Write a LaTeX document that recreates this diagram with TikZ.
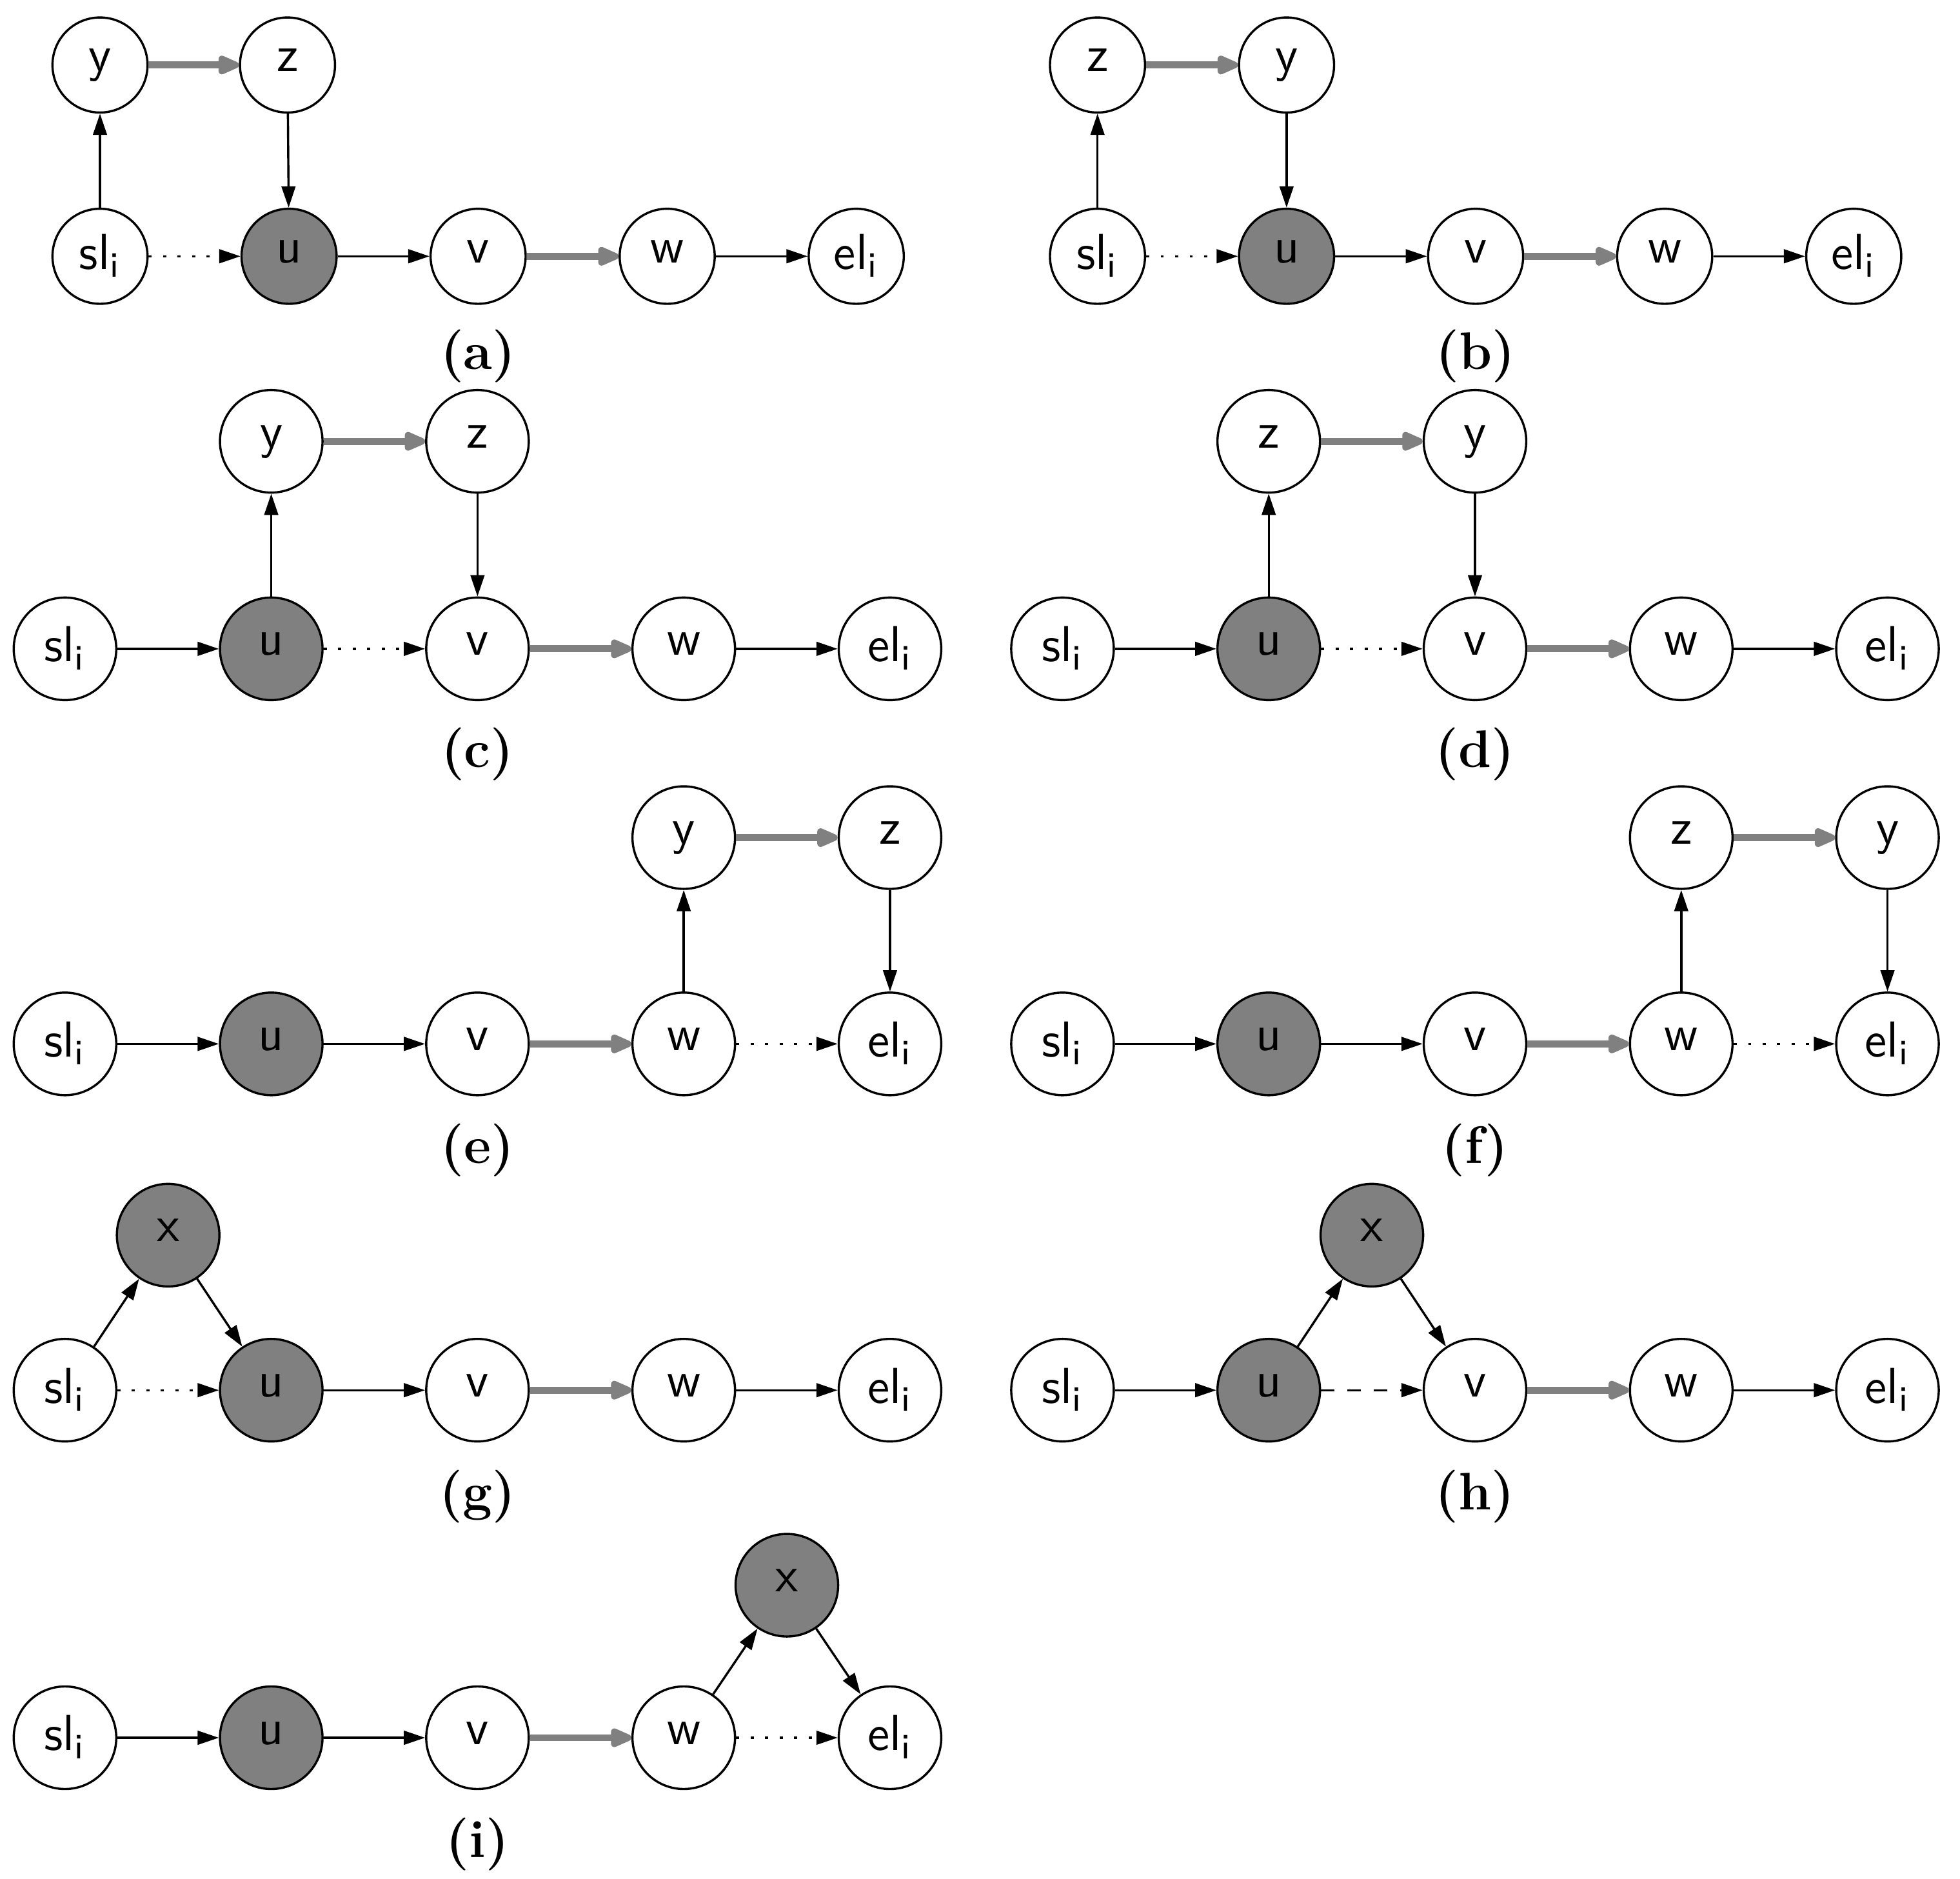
\documentclass[tikz,border=0pt]{standalone}
\usetikzlibrary{arrows.meta}
\tikzset{
  vtx/.style={circle, draw, line width=0.5pt, minimum size=0.82cm, inner sep=0pt,
    text depth=0.5ex, font=\sffamily\fontsize{11.5}{13}\selectfont},
  hot/.style={fill=gray},
  arr/.style={-{Triangle[length=1.7mm,width=1.1mm]}, line width=0.5pt},
  garr/.style={-{Triangle[round,length=2.1mm,width=1.6mm]}, line width=1.6pt, draw=gray},
  dots/.style={dash pattern=on 0.7pt off 2.6pt},
  captxt/.style={font=\bfseries\fontsize{12}{14}\selectfont}
}
\begin{document}
\begin{tikzpicture}[x=0.01cm, y=-0.01cm]
    \useasboundingbox (0,0) rectangle (1568,1503);
    % bottom row of every panel
    \foreach \p/\ox/\oy/\dx/\sz/\cy/\su/\uv/\we in {
        a/80/205/151.25/0.76cm/80/dots/solid/solid,
        b/878/205/151.25/0.76cm/80/dots/solid/solid,
        c/52/519/165/0.82cm/84/solid/dots/solid,
        d/850/519/165/0.82cm/84/solid/dots/solid,
        e/52/835/165/0.82cm/85/solid/solid/dots,
        f/850/835/165/0.82cm/85/solid/solid/dots,
        g/52/1112/165/0.82cm/85/dots/solid/solid,
        h/850/1112/165/0.82cm/85/solid/dashed/solid,
        i/52/1390/165/0.82cm/85/solid/solid/dots} {
        \node[vtx, minimum size=\sz] (\p-sl) at (\ox,\oy) {sl\textsubscript{i}};
        \node[vtx, hot, minimum size=\sz] (\p-u) at (\ox+\dx,\oy) {u};
        \node[vtx, minimum size=\sz] (\p-v) at (\ox+2*\dx,\oy) {v};
        \node[vtx, minimum size=\sz] (\p-w) at (\ox+3*\dx,\oy) {w};
        \node[vtx, minimum size=\sz] (\p-el) at (\ox+4*\dx,\oy) {el\textsubscript{i}};
        \node[captxt] (\p-lbl) at (\ox+2*\dx,\oy+\cy) {(\p)};
        \draw[arr, \su] (\p-sl) -- (\p-u);
        \draw[arr, \uv] (\p-u) -- (\p-v);
        \draw[garr] (\p-v) -- (\p-w);
        \draw[arr, \we] (\p-w) -- (\p-el);
    }
    % (a) and (b)
    \node[vtx, minimum size=0.76cm] (a-y) at (80,52) {y};
    \node[vtx, minimum size=0.76cm] (a-z) at (230,52) {z};
    \draw[arr] (a-sl) -- (a-y);
    \draw[garr] (a-y) -- (a-z);
    \draw[arr] (a-z) -- (a-u);
    \node[vtx, minimum size=0.76cm] (b-z) at (878,52) {z};
    \node[vtx, minimum size=0.76cm] (b-y) at (1029.25,52) {y};
    \draw[arr] (b-sl) -- (b-z);
    \draw[garr] (b-z) -- (b-y);
    \draw[arr] (b-y) -- (b-u);
    % (c) and (d)
    \node[vtx] (c-y) at (217,353) {y};
    \node[vtx] (c-z) at (382,353) {z};
    \draw[arr] (c-u) -- (c-y);
    \draw[garr] (c-y) -- (c-z);
    \draw[arr] (c-z) -- (c-v);
    \node[vtx] (d-z) at (1015,353) {z};
    \node[vtx] (d-y) at (1180,353) {y};
    \draw[arr] (d-u) -- (d-z);
    \draw[garr] (d-z) -- (d-y);
    \draw[arr] (d-y) -- (d-v);
    % (e) and (f)
    \node[vtx] (e-y) at (547,670) {y};
    \node[vtx] (e-z) at (712,670) {z};
    \draw[arr] (e-w) -- (e-y);
    \draw[garr] (e-y) -- (e-z);
    \draw[arr] (e-z) -- (e-el);
    \node[vtx] (f-z) at (1345,670) {z};
    \node[vtx] (f-y) at (1510,670) {y};
    \draw[arr] (f-w) -- (f-z);
    \draw[garr] (f-z) -- (f-y);
    \draw[arr] (f-y) -- (f-el);
    % (g), (h) and (i)
    \node[vtx, hot] (g-x) at (134.5,988) {x};
    \draw[arr] (g-sl) -- (g-x);
    \draw[arr] (g-x) -- (g-u);
    \node[vtx, hot] (h-x) at (1097.5,988) {x};
    \draw[arr] (h-u) -- (h-x);
    \draw[arr] (h-x) -- (h-v);
    \node[vtx, hot] (i-x) at (629.5,1268) {x};
    \draw[arr] (i-w) -- (i-x);
    \draw[arr] (i-x) -- (i-el);
\end{tikzpicture}
\end{document}
